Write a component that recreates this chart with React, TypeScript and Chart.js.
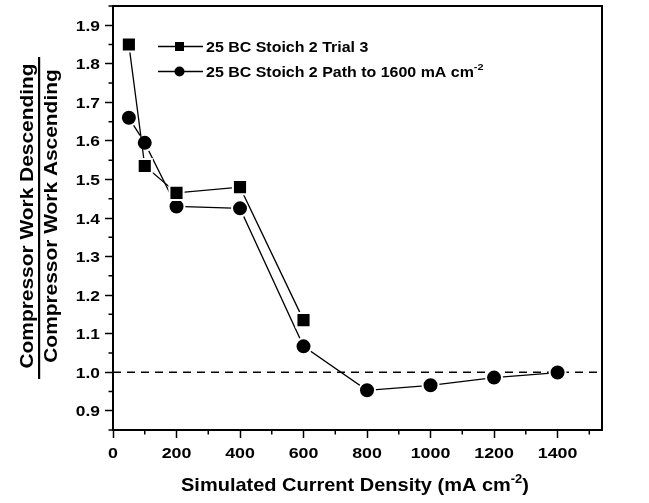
import React, { useEffect, useRef } from "react";
import { Chart, registerables } from "chart.js";

Chart.register(...registerables);

// Current density (mA cm^-2) and compressor work ratio for each run
const trialX = [50, 100, 200, 400, 600];
const trialY = [1.85, 1.535, 1.465, 1.48, 1.135];
const pathX = [50, 100, 200, 400, 600, 800, 1000, 1200, 1400];
const pathY = [1.66, 1.595, 1.43, 1.425, 1.067, 0.953, 0.966, 0.986, 0.999];

// Axis tick values
const xTicks = [0, 200, 400, 600, 800, 1000, 1200, 1400];
const xMinorTicks = [100, 300, 500, 700, 900, 1100, 1300, 1500];
const yTicks = [0.9, 1.0, 1.1, 1.2, 1.3, 1.4, 1.5, 1.6, 1.7, 1.8, 1.9];
const yMinorTicks = [0.85, 0.95, 1.05, 1.15, 1.25, 1.35, 1.45, 1.55, 1.65, 1.75, 1.85, 1.95];

const seriesNames = ["25 BC Stoich 2 Trial 3", "25 BC Stoich 2 Path to 1600 mA cm"];
const seriesSup = ["", "-2"];
const yTitleTop = "Compressor Work Descending";
const yTitleBottom = "Compressor Work Ascending";
const xTitleMain = "Simulated Current Density (mA cm";
const xTitleSup = "-2";
const xTitleEnd = ")";
const referenceLevel = 1.0;

const FAMILY = "'Liberation Sans', Arial, Helvetica, sans-serif";
const WIDE = 1.14; // horizontal widening applied to all lettering

function font(size: number) {
  return `bold ${size}px ${FAMILY}`;
}

// Text widened along its run direction
function drawWide(
  ctx: CanvasRenderingContext2D,
  text: string,
  x: number,
  y: number,
  size: number,
  align: CanvasTextAlign,
  stretch = WIDE
) {
  ctx.save();
  ctx.translate(x, y);
  ctx.scale(stretch, 1);
  ctx.font = font(size);
  ctx.textAlign = align;
  ctx.textBaseline = "alphabetic";
  ctx.fillText(text, 0, 0);
  ctx.restore();
}

// Text with a raised superscript part, left aligned at x, widened by stretch
function drawSupText(
  ctx: CanvasRenderingContext2D,
  x: number,
  y: number,
  main: string,
  sup: string,
  tail: string,
  size: number,
  supSize: number,
  stretch: number
) {
  ctx.save();
  ctx.translate(x, y);
  ctx.scale(stretch, 1);
  ctx.textAlign = "left";
  ctx.textBaseline = "alphabetic";
  ctx.font = font(size);
  ctx.fillText(main, 0, 0);
  let cx = ctx.measureText(main).width;
  if (sup) {
    ctx.font = font(supSize);
    ctx.fillText(sup, cx, -size * 0.45);
    cx += ctx.measureText(sup).width;
  }
  if (tail) {
    ctx.font = font(size);
    ctx.fillText(tail, cx, 0);
  }
  ctx.restore();
}

function supTextWidth(ctx: CanvasRenderingContext2D, main: string, sup: string, tail: string, size: number, supSize: number) {
  ctx.font = font(size);
  let w = ctx.measureText(main).width + ctx.measureText(tail).width;
  ctx.font = font(supSize);
  w += ctx.measureText(sup).width;
  return w;
}

const decorPlugin = {
  id: "decor",
  beforeDatasetsDraw(chart: any) {
    const { ctx, chartArea, scales } = chart;
    const y = scales.y.getPixelForValue(referenceLevel);
    ctx.save();
    ctx.strokeStyle = "#000";
    ctx.lineWidth = 1.4;
    ctx.setLineDash([8, 6]);
    ctx.beginPath();
    ctx.moveTo(chartArea.left, y);
    ctx.lineTo(chartArea.right, y);
    ctx.stroke();
    ctx.restore();
  },
  afterDraw(chart: any) {
    const { ctx, chartArea, scales } = chart;
    const { left, right, top, bottom } = chartArea;
    ctx.save();
    ctx.fillStyle = "#000";
    ctx.strokeStyle = "#000";

    // frame around the plot
    ctx.lineWidth = 2;
    ctx.strokeRect(left, top, right - left, bottom - top);

    // minor ticks
    ctx.lineWidth = 1.5;
    ctx.beginPath();
    xMinorTicks.forEach((v) => {
      const px = scales.x.getPixelForValue(v);
      ctx.moveTo(px, bottom);
      ctx.lineTo(px, bottom + 4.5);
    });
    yMinorTicks.forEach((v) => {
      const py = scales.y.getPixelForValue(v);
      ctx.moveTo(left, py);
      ctx.lineTo(left - 4.5, py);
    });
    ctx.stroke();

    // tick labels
    const tickSize = 15.5;
    scales.y.ticks.forEach((t: any) => {
      const py = scales.y.getPixelForValue(t.value);
      drawWide(ctx, t.value.toFixed(1), 100, py + tickSize * 0.36, tickSize, "right", 1.12);
    });
    scales.x.ticks.forEach((t: any) => {
      const px = scales.x.getPixelForValue(t.value);
      drawWide(ctx, String(t.value), px, 458, tickSize, "center", 1.15);
    });

    // legend
    const ds = chart.data.datasets;
    const rows = [46.5, 71.5];
    ds.forEach((d: any, i: number) => {
      const ly = rows[i];
      ctx.lineWidth = 1.3;
      ctx.beginPath();
      ctx.moveTo(158, ly);
      ctx.lineTo(203, ly);
      ctx.stroke();
      if (d.pointStyle === "rect") {
        ctx.fillRect(175, ly - 4.5, 9, 9);
      } else {
        ctx.beginPath();
        ctx.arc(179.5, ly, 5, 0, Math.PI * 2);
        ctx.fill();
      }
      drawSupText(ctx, 206, ly + 5, seriesNames[i], seriesSup[i], "", 14, 9.5, WIDE);
    });

    // x axis title
    const xs = 18.5;
    const xStretch = 1.08;
    const xw = supTextWidth(ctx, xTitleMain, xTitleSup, xTitleEnd, xs, 12) * xStretch;
    drawSupText(ctx, 355 - xw / 2, 491, xTitleMain, xTitleSup, xTitleEnd, xs, 12, xStretch);

    // y axis title as a fraction
    const cy = 216;
    ctx.save();
    ctx.rotate(-Math.PI / 2);
    drawWide(ctx, yTitleTop, -cy, 33, 19, "center", 1.1);
    drawWide(ctx, yTitleBottom, -cy, 57, 19, "center", 1.1);
    ctx.restore();
    ctx.fillRect(38, 57, 2.2, 322);

    ctx.restore();
  },
};

export default function App() {
  const ref = useRef<HTMLCanvasElement>(null);

  useEffect(() => {
    const canvas = ref.current;
    if (!canvas) return;
    const gridOpts = {
      drawOnChartArea: false,
      drawTicks: true,
      tickLength: 8,
      tickWidth: 1.5,
      tickColor: "#000",
    };
    const chart = new Chart(canvas, {
      type: "scatter",
      data: {
        datasets: [
          {
            label: seriesNames[0],
            data: trialX.map((x, i) => ({ x, y: trialY[i] })),
            showLine: true,
            borderColor: "#000",
            borderWidth: 1.3,
            pointStyle: "rect",
            pointRadius: 10,
            pointBackgroundColor: "#000",
            pointBorderColor: "#fff",
            pointBorderWidth: 2,
          },
          {
            label: seriesNames[1] + seriesSup[1],
            data: pathX.map((x, i) => ({ x, y: pathY[i] })),
            showLine: true,
            borderColor: "#000",
            borderWidth: 1.3,
            pointStyle: "circle",
            pointRadius: 8,
            pointBackgroundColor: "#000",
            pointBorderColor: "#fff",
            pointBorderWidth: 2,
          },
        ],
      },
      options: {
        animation: false,
        responsive: false,
        layout: { autoPadding: false, padding: { top: 6, right: 47, left: 0, bottom: 0 } },
        plugins: { legend: { display: false }, tooltip: { enabled: false } },
        scales: {
          x: {
            type: "linear",
            min: 0,
            max: 1540,
            afterBuildTicks: (s: any) => {
              s.ticks = xTicks.map((value) => ({ value }));
            },
            ticks: { display: false },
            grid: gridOpts,
            border: { color: "#000", width: 2 },
            afterFit: (s: any) => {
              s.height = 73;
              s.paddingLeft = 0;
              s.paddingRight = 0;
            },
          },
          y: {
            type: "linear",
            min: 0.85,
            max: 1.95,
            afterBuildTicks: (s: any) => {
              s.ticks = yTicks.map((value) => ({ value }));
            },
            ticks: { display: false },
            grid: gridOpts,
            border: { color: "#000", width: 2 },
            afterFit: (s: any) => {
              s.width = 113;
              s.paddingTop = 0;
              s.paddingBottom = 0;
            },
          },
        },
      },
      plugins: [decorPlugin],
    });
    return () => chart.destroy();
  }, []);

  return (
    <div style={{ position: "absolute", left: 0, top: 0, width: 649, height: 503, background: "#fff" }}>
      <canvas ref={ref} width={649} height={503} style={{ display: "block" }} />
    </div>
  );
}
